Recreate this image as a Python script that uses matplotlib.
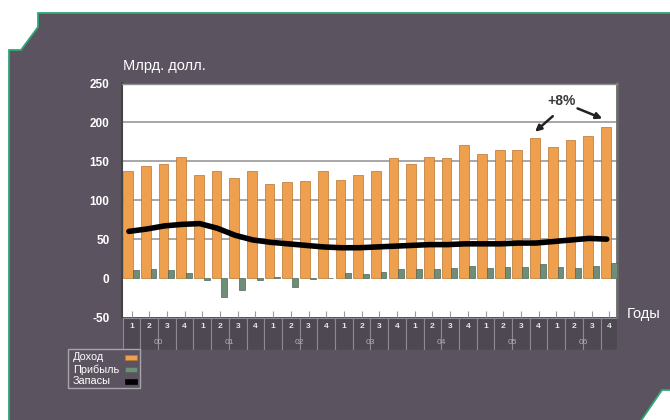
import matplotlib
matplotlib.use("Agg")
import matplotlib.pyplot as plt
from matplotlib.patches import Polygon, Rectangle

plt.rcParams['font.family'] = ['Liberation Sans', 'DejaVu Sans']

# ---------------- data ----------------
quarter_labels = ['1', '2', '3', '4'] * 7
year_labels = ['00', '01', '02', '03', '04', '05', '06']
revenue = [138, 144, 146, 155, 132, 137, 129, 137, 121, 124, 125, 137, 126, 132,
           138, 154, 147, 155, 154, 171, 159, 164, 165, 180, 169, 177, 182, 194]
profit = [11, 12, 10, 6, -2, -24, -15, -2, 2, -11, -1, 0.5, 6, 5,
          8, 12, 12, 12, 13, 15, 13, 14, 14, 18, 14, 13, 16, 20]
inventory = [60, 63, 67, 69, 70, 64, 55, 49, 46, 44, 42, 40, 39, 39,
             40, 41, 42, 43, 43, 44, 44, 44, 45, 45, 47, 49, 51, 50]
series_names = ['Доход', 'Прибыль', 'Запасы']
y_ticks = [-50, 0, 50, 100, 150, 200, 250]
y_title = 'Млрд. долл.'
x_title = 'Годы'
growth_label = '+8%'

# ---------------- style ----------------
W, H = 670, 420
PANEL = '#5b5460'
BORDER = '#2fa877'
ORANGE = '#efa04e'
ORANGE_EDGE = '#b8742f'
GREEN = '#6f8e7a'
GREEN_EDGE = '#4c6656'


def fx(px):
    return px / W


def fy(py):
    return 1 - py / H


fig = plt.figure(figsize=(6.7, 4.2), dpi=100)
fig.patch.set_facecolor('white')

# dark panel with cut corners
pts = [(38, 13), (680, 13), (680, 390), (662, 390), (636, 428), (9, 428),
       (9, 50), (21, 50), (38, 27)]
panel = Polygon([(fx(x), fy(y)) for x, y in pts], closed=True,
                transform=fig.transFigure, facecolor=PANEL, edgecolor=BORDER,
                linewidth=1.3, zorder=0)
fig.add_artist(panel)

# main axes
left, right, top, bottom = 122, 617, 83.5, 317
ax = fig.add_axes([fx(left), fy(bottom), fx(right - left), (bottom - top) / H])
ax.set_facecolor('white')
n = len(revenue)
idx = list(range(n))
ax.set_xlim(-0.54, n - 0.57)
ax.set_ylim(y_ticks[0], y_ticks[-1])

ax.bar([i - 0.2 for i in idx], revenue, width=0.55, color=ORANGE,
       edgecolor=ORANGE_EDGE, linewidth=0.5, zorder=3)
ax.bar([i + 0.24 for i in idx], profit, width=0.33, color=GREEN,
       edgecolor=GREEN_EDGE, linewidth=0.5, zorder=3)
ax.plot([i - 0.15 for i in idx], inventory, color='black', linewidth=4.0,
        solid_joinstyle='round', solid_capstyle='round', zorder=4)

ax.set_yticks(y_ticks)
ax.set_yticklabels([str(v) for v in y_ticks], color='white',
                   fontweight='bold', fontsize=8.5)
ax.tick_params(axis='y', length=0, pad=9)
ax.yaxis.grid(True, color='#909090', linewidth=1.1, zorder=0)
for v, gl in zip(y_ticks, ax.get_ygridlines()):
    if v <= 0 or v >= y_ticks[-1]:
        gl.set_visible(False)
ax.set_axisbelow(True)

ax.set_xticks(idx)
ax.tick_params(axis='x', direction='in', length=4, width=0.8, color='#9a9a9a',
               labelbottom=False)

ax.spines['left'].set_color('#444444')
ax.spines['left'].set_linewidth(1.5)
ax.spines['top'].set_color('#8f8f8f')
ax.spines['top'].set_linewidth(1.0)
ax.spines['right'].set_color('#6a6a6a')
ax.spines['right'].set_linewidth(2.0)
ax.spines['bottom'].set_visible(False)

# +8% annotation
i1, i2 = 23, 27
ax.annotate('', xy=(i1 - 0.2, revenue[i1] + 8), xytext=(i1 + 0.8, revenue[i1] + 28),
            arrowprops=dict(arrowstyle='-|>', color='#222222', lw=1.8,
                            mutation_scale=9, shrinkA=0, shrinkB=0), zorder=5)
ax.annotate('', xy=(i2 - 0.4, revenue[i2] + 11), xytext=(i2 - 1.8, revenue[i2] + 24),
            arrowprops=dict(arrowstyle='-|>', color='#222222', lw=1.8,
                            mutation_scale=9, shrinkA=0, shrinkB=0), zorder=5)
ax.text((i1 + i2) / 2 - 0.7, revenue[i2] + 33, growth_label, color='#3a3a3a',
        fontsize=10, fontweight='bold', ha='center', va='center', zorder=5)

# category table under the axes
tax = fig.add_axes([fx(left), fy(350), fx(right - left), 32 / H])
tax.set_xlim(ax.get_xlim())
tax.set_ylim(0, 2)
tax.axis('off')
for i, q in enumerate(quarter_labels):
    tax.add_patch(Rectangle((i - 0.5, 0), 1, 2, facecolor='#4d4852',
                            edgecolor='#8d8894', linewidth=0.8))
    tax.text(i, 1.45, q, color='#e6e6e6', fontsize=6, fontweight='bold',
             ha='center', va='center')
for k, y in enumerate(year_labels):
    tax.text(4 * k + 1.5, 0.5, y, color='#b4b0b8', fontsize=6,
             ha='center', va='center')

# titles
fig.text(fx(123), fy(66), y_title, color='white', fontsize=10.5,
         ha='left', va='center')
fig.text(fx(627), fy(314), x_title, color='white', fontsize=10.5,
         ha='left', va='center')

# legend (labels left, colour keys right)
leg_colors = [(ORANGE, ORANGE_EDGE), (GREEN, GREEN_EDGE), ('black', 'black')]
fig.add_artist(Rectangle((fx(68), fy(388)), fx(72), 39 / H,
                         transform=fig.transFigure, facecolor=PANEL,
                         edgecolor='#a8a4ac', linewidth=1.0, zorder=5))
row_y = [357, 369.5, 381]
for name, (fc, ec), ry in zip(series_names, leg_colors, row_y):
    fig.text(fx(73), fy(ry), name, color='white', fontsize=7.8,
             ha='left', va='center', zorder=6)
    fig.add_artist(Rectangle((fx(125), fy(ry + 2.5)), fx(12), 5 / H,
                             transform=fig.transFigure, facecolor=fc,
                             edgecolor=ec, linewidth=0.5, zorder=6))

fig.savefig('out.png', dpi=100)
